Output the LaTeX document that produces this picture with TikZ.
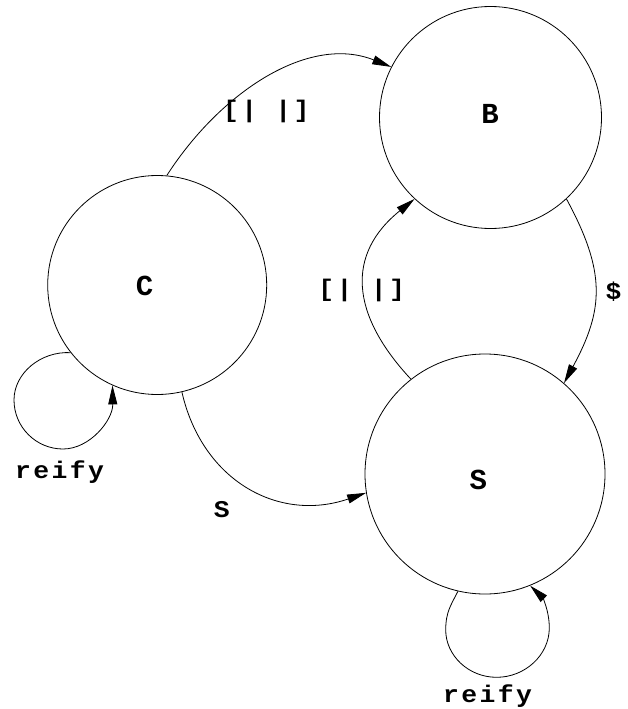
\documentclass[tikz,border=0pt]{standalone}
\usepackage{fontspec}
\usetikzlibrary{arrows.meta}
\newfontfamily\edgefont[FakeStretch=1.1,LetterSpace=10]{Liberation Mono}
\newfontfamily\nodefont{Liberation Mono}
\begin{document}
\begin{tikzpicture}[x=1pt,y=-1pt,
  state/.style={draw, circle, line width=0.8pt, inner sep=0pt},
  edge/.style={draw, line width=0.8pt, -{Triangle[length=19pt,width=9pt]}},
  elabel/.style={font=\edgefont\bfseries\fontsize{24}{24}\selectfont, inner sep=0pt},
  nlabel/.style={font=\nodefont\bfseries\fontsize{29}{29}\selectfont, inner sep=0pt, anchor=base}]
\useasboundingbox (0,0) rectangle (627,709);
% states
\node[state, minimum size=219pt] (C) at (157.2,285) {};
\node[state, minimum size=222pt] (B) at (490.5,117.5) {};
\node[state, minimum size=240pt] (S) at (485,474) {};
\node[nlabel] (Ct) at (144.5,295.5) {C};
\node[nlabel] (Bt) at (490,123.3) {B};
\node[nlabel] (St) at (478.3,489.5) {S};
% edges
\draw[edge] (C.85) .. controls (220.7,91.7) and (308.9,34.1) .. (B.153.5);
\draw[edge] (B.313.3) .. controls (606.2,272.2) and (603.9,309.6) .. (S.49.6);
\draw[edge] (S.128.6) .. controls (350.5,314.4) and (345.6,254.4) .. (B.227.2);
\draw[edge] (C.283.6) .. controls (202.2,480.9) and (278.8,522.8) .. (S.189.4);
\draw[edge] (C.218.7) .. controls (41,351) and (14,373) .. (14,400)
  .. controls (14,427) and (36,449) .. (63,449)
  .. controls (90,449) and (113,420) .. (C.246.2);
\draw[edge] (S.257.3) .. controls (451,605) and (445.7,612) .. (445.7,630)
  .. controls (445.7,655) and (468,677.3) .. (496.7,677.3)
  .. controls (525,677.3) and (549.3,655) .. (549.3,628)
  .. controls (549.3,610) and (542,597) .. (S.292.5);
% edge labels
\node[elabel] (l1) at (266.3,111.3) {[| |]};
\node[elabel] (l2) at (361.7,290) {[| |]};
\node[elabel] (l3) at (613.5,292) {\$};
\node[elabel, anchor=base] (l4) at (221.8,517) {S};
\node[elabel, anchor=base] (l5) at (59.5,478.3) {reify};
\node[elabel, anchor=base] (l6) at (487.5,702.5) {reify};
\end{tikzpicture}
\end{document}
